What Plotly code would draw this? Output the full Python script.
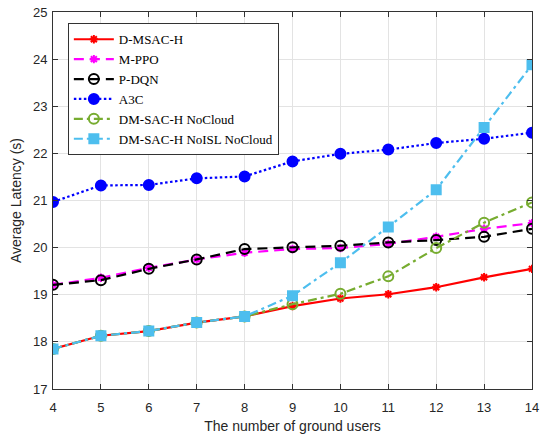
import plotly.graph_objects as go

users = [4, 5, 6, 7, 8, 9, 10, 11, 12, 13, 14]

d_msac_h = [17.85, 18.13, 18.23, 18.41, 18.54, 18.76, 18.92, 19.01, 19.16, 19.37, 19.55]
m_ppo = [19.21, 19.36, 19.57, 19.75, 19.89, 19.97, 19.99, 20.08, 20.23, 20.40, 20.52]
p_dqn = [19.21, 19.31, 19.55, 19.75, 19.97, 20.01, 20.04, 20.11, 20.16, 20.23, 20.40]
a3c = [20.97, 21.32, 21.33, 21.47, 21.51, 21.83, 21.99, 22.08, 22.22, 22.31, 22.44]
nocloud = [17.85, 18.13, 18.23, 18.41, 18.54, 18.80, 19.02, 19.39, 19.99, 20.53, 20.96]
noisl_nocloud = [17.85, 18.13, 18.23, 18.41, 18.54, 18.98, 19.68, 20.44, 21.23, 22.55, 23.88]

series = [
    ("D-MSAC-H", d_msac_h, "#ff0000", "solid", "asterisk-open", 7),
    ("M-PPO", m_ppo, "#ff00ff", "10px,6px", "asterisk-open", 7),
    ("P-DQN", p_dqn, "#000000", "10px,6px", "circle-open", 10),
    ("A3C", a3c, "#0000ff", "2.5px,2.5px", "circle", 10),
    ("DM-SAC-H NoCloud", nocloud, "#77ac30", "9px,4px,3px,4px", "circle-open", 10),
    ("DM-SAC-H NoISL NoCloud", noisl_nocloud, "#4dbeee", "9px,4px,3px,4px", "square", 9),
]

fig = go.Figure()
for name, vals, color, dash, sym, size in series:
    fig.add_trace(go.Scatter(
        x=users, y=vals, name=name, mode="lines+markers",
        line=dict(color=color, width=2.2, dash=dash),
        marker=dict(symbol=sym, size=size, color=color,
                    line=dict(color=color, width=2)),
    ))

tick_font = dict(family="Liberation Sans, Arial", size=13, color="#262626")
title_font = dict(family="Liberation Sans, Arial", size=14, color="#262626")

axis_common = dict(
    showgrid=True, gridcolor="#e3e3e3", gridwidth=1,
    showline=True, linecolor="#333333", linewidth=1, mirror="ticks",
    ticks="inside", ticklen=5, tickcolor="#333333",
    tickfont=tick_font, zeroline=False, automargin=False,
)

fig.update_layout(
    width=540, height=436,
    margin=dict(l=53, r=8, t=12, b=47),
    paper_bgcolor="white", plot_bgcolor="white",
    xaxis=dict(range=[4, 14], dtick=1, ticklabelstandoff=6,
               title=dict(text="The number of ground users", standoff=7,
                          font=title_font),
               **axis_common),
    yaxis=dict(range=[17, 25], dtick=1, ticklabelstandoff=2,
               title=dict(text="Average Latency (s)", standoff=8,
                          font=title_font),
               **axis_common),
    legend=dict(x=0.031, y=0.97, xanchor="left", yanchor="top",
                bgcolor="white", bordercolor="#333333", borderwidth=1,
                font=dict(family="Liberation Serif, Times New Roman", size=13, color="#000000"),
                tracegroupgap=0, itemwidth=40),
    showlegend=True,
)

fig.write_html("out.html")
